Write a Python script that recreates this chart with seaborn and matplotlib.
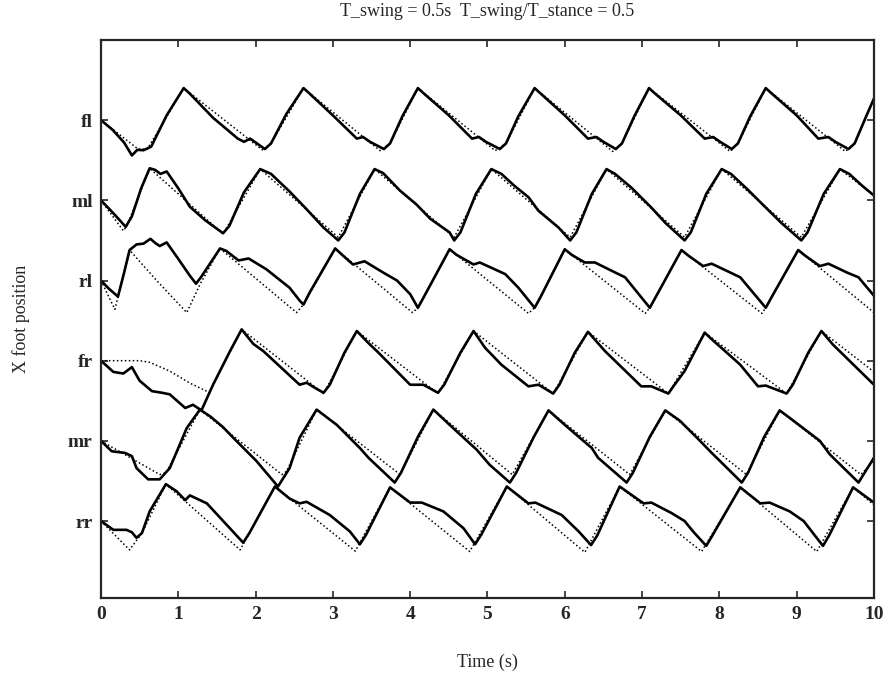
import numpy as np
import matplotlib
matplotlib.use("Agg")
import matplotlib.pyplot as plt
import seaborn as sns

sns.set_style("ticks")
plt.rcParams['font.family'] = ['Liberation Serif', 'DejaVu Serif']

# legs, top to bottom
legs = ['fl', 'ml', 'rl', 'fr', 'mr', 'rr']

# fl: measured (solid) and commanded (dotted) foot x position
fl_t = [0.00, 0.15, 0.30, 0.40, 0.47, 0.55, 0.65, 0.85, 1.07, 1.15, 1.45, 1.77, 1.85, 1.93, 2.12, 2.20, 2.40, 2.62, 2.70, 3.00,
        3.31, 3.39, 3.48, 3.66, 3.74, 3.90, 4.10, 4.18, 4.50, 4.80, 4.89, 4.98, 5.16, 5.24, 5.40, 5.61, 5.69, 6.00, 6.30, 6.41,
        6.50, 6.66, 6.74, 6.90, 7.09, 7.17, 7.50, 7.81, 7.92, 8.01, 8.16, 8.24, 8.40, 8.60, 8.68, 9.00, 9.28, 9.41, 9.50, 9.67,
        9.75, 9.90, 10.0]
fl_v = [0.00, -0.12, -0.28, -0.44, -0.37, -0.375, -0.33, 0.06, 0.40, 0.33, 0.03, -0.23, -0.27, -0.23, -0.36, -0.29, 0.08, 0.40, 0.33, 0.06,
        -0.23, -0.21, -0.27, -0.36, -0.29, 0.05, 0.40, 0.33, 0.06, -0.23, -0.21, -0.27, -0.36, -0.29, 0.05, 0.40, 0.33, 0.06, -0.23, -0.21,
        -0.27, -0.36, -0.29, 0.05, 0.40, 0.33, 0.06, -0.23, -0.21, -0.27, -0.36, -0.29, 0.05, 0.40, 0.33, 0.06, -0.23, -0.21, -0.27, -0.36,
        -0.29, 0.05, 0.27]
fl_ref_t = [0.00, 0.48, 0.60, 1.07, 2.10, 2.20, 2.62, 3.61, 3.74, 4.10, 5.10, 5.24, 5.61, 6.62, 6.74, 7.09, 8.14, 8.24, 8.60,
            9.63, 9.75, 10.0]
fl_ref_v = [0.00, -0.36, -0.36, 0.40, -0.38, -0.29, 0.40, -0.38, -0.29, 0.40, -0.38, -0.29, 0.40, -0.39, -0.29, 0.40, -0.39, -0.29, 0.40,
            -0.39, -0.29, 0.27]

# ml
ml_t = [0.00, 0.15, 0.32, 0.40, 0.52, 0.63, 0.70, 0.77, 0.85, 1.00, 1.15, 1.35, 1.58, 1.66, 1.85, 2.06, 2.20, 2.44, 2.64, 2.88,
        3.07, 3.15, 3.35, 3.54, 3.65, 3.87, 4.08, 4.26, 4.51, 4.57, 4.65, 4.85, 5.05, 5.18, 5.35, 5.53, 5.66, 5.92, 6.07, 6.15,
        6.35, 6.54, 6.65, 6.86, 7.12, 7.30, 7.55, 7.63, 7.83, 8.03, 8.15, 8.35, 8.60, 8.80, 9.06, 9.14, 9.35, 9.56, 9.68, 9.85,
        10.0]
ml_v = [0.00, -0.15, -0.33, -0.20, 0.15, 0.40, 0.38, 0.33, 0.36, 0.15, -0.08, -0.25, -0.41, -0.32, 0.10, 0.39, 0.33, 0.11, -0.09, -0.34,
        -0.50, -0.40, 0.08, 0.39, 0.34, 0.12, -0.05, -0.23, -0.40, -0.50, -0.40, 0.08, 0.39, 0.33, 0.18, 0.04, -0.13, -0.34, -0.50, -0.40,
        0.08, 0.39, 0.33, 0.16, -0.09, -0.28, -0.50, -0.40, 0.08, 0.39, 0.33, 0.15, -0.09, -0.28, -0.50, -0.40, 0.08, 0.39, 0.33, 0.18,
        0.06]
ml_ref_t = [0.00, 0.29, 0.34, 0.63, 1.58, 2.06, 3.07, 3.54, 4.57, 5.05, 6.07, 6.54, 7.55, 8.03, 9.06, 9.56, 10.0]
ml_ref_v = [0.00, -0.38, -0.31, 0.40, -0.42, 0.39, -0.46, 0.39, -0.46, 0.39, -0.46, 0.39, -0.46, 0.39, -0.46, 0.39, 0.06]

# rl
rl_t = [0.00, 0.10, 0.22, 0.30, 0.37, 0.46, 0.55, 0.64, 0.70, 0.76, 0.85, 1.00, 1.15, 1.23, 1.30, 1.54, 1.62, 1.78, 1.91, 2.14,
        2.44, 2.57, 2.62, 2.70, 3.03, 3.12, 3.26, 3.41, 3.65, 3.83, 4.00, 4.10, 4.18, 4.51, 4.60, 4.82, 4.90, 5.23, 5.40, 5.61,
        5.69, 6.00, 6.09, 6.26, 6.39, 6.61, 6.78, 7.10, 7.18, 7.51, 7.60, 7.79, 7.90, 8.14, 8.27, 8.60, 8.68, 9.02, 9.11, 9.30,
        9.41, 9.65, 9.80, 10.0]
rl_v = [0.00, -0.10, -0.20, 0.10, 0.38, 0.45, 0.46, 0.52, 0.47, 0.43, 0.475, 0.27, 0.06, -0.04, 0.05, 0.40, 0.37, 0.25, 0.275, 0.14,
        -0.09, -0.25, -0.30, -0.15, 0.40, 0.32, 0.20, 0.24, 0.10, 0.00, -0.17, -0.34, -0.20, 0.39, 0.32, 0.20, 0.225, 0.08, -0.09, -0.34,
        -0.20, 0.39, 0.32, 0.225, 0.225, 0.12, 0.04, -0.34, -0.20, 0.38, 0.31, 0.18, 0.21, 0.10, 0.04, -0.34, -0.20, 0.38, 0.31, 0.18,
        0.21, 0.10, 0.04, -0.19]
rl_ref_t = [0.00, 0.18, 0.30, 0.37, 0.72, 1.11, 1.28, 1.54, 2.53, 2.62, 3.03, 4.03, 4.10, 4.51, 5.53, 5.61, 6.00, 7.04, 7.10,
            7.51, 8.55, 8.60, 9.02, 10.0]
rl_ref_v = [0.00, -0.36, 0.10, 0.38, 0.00, -0.40, -0.05, 0.40, -0.40, -0.30, 0.40, -0.40, -0.34, 0.39, -0.41, -0.34, 0.39, -0.41, -0.34,
            0.38, -0.41, -0.34, 0.38, -0.40]

# fr
fr_t = [0.00, 0.16, 0.29, 0.40, 0.50, 0.66, 0.79, 0.89, 1.09, 1.19, 1.30, 1.45, 1.67, 1.82, 1.97, 2.10, 2.57, 2.66, 2.77, 2.88,
        2.96, 3.15, 3.31, 3.46, 3.59, 4.00, 4.17, 4.36, 4.44, 4.65, 4.82, 4.97, 5.18, 5.53, 5.66, 5.85, 5.93, 6.13, 6.30, 6.52,
        6.99, 7.12, 7.34, 7.42, 7.55, 7.81, 7.92, 8.05, 8.27, 8.50, 8.60, 8.87, 8.95, 9.15, 9.32, 9.47, 10.0]
fr_v = [0.00, -0.14, -0.16, -0.08, -0.25, -0.38, -0.40, -0.42, -0.59, -0.55, -0.62, -0.30, 0.12, 0.39, 0.21, 0.12, -0.30, -0.275, -0.34, -0.40,
        -0.30, 0.10, 0.37, 0.22, 0.10, -0.30, -0.30, -0.40, -0.30, 0.10, 0.37, 0.16, -0.05, -0.32, -0.30, -0.41, -0.30, 0.10, 0.36, 0.12,
        -0.32, -0.32, -0.41, -0.30, -0.13, 0.35, 0.25, 0.14, -0.05, -0.32, -0.31, -0.41, -0.30, 0.10, 0.37, 0.20, -0.30]
fr_ref_t = [0.00, 0.50, 0.63, 0.89, 1.15, 1.41, 1.45, 1.82, 2.88, 3.31, 4.36, 4.82, 5.85, 6.30, 7.34, 7.81, 8.87, 9.32, 10.0]
fr_ref_v = [0.00, 0.00, -0.02, -0.13, -0.28, -0.40, -0.30, 0.39, -0.41, 0.37, -0.41, 0.37, -0.41, 0.36, -0.41, 0.35, -0.41, 0.37, -0.14]

# mr
mr_t = [0.00, 0.14, 0.31, 0.40, 0.46, 0.61, 0.76, 0.89, 1.11, 1.28, 1.42, 1.58, 1.71, 2.01, 2.29, 2.44, 2.57, 2.79, 3.05, 3.35,
        3.46, 3.80, 3.88, 4.10, 4.30, 4.51, 4.86, 5.03, 5.29, 5.37, 5.60, 5.79, 6.00, 6.35, 6.43, 6.80, 6.88, 7.10, 7.30, 7.49,
        7.75, 7.88, 8.29, 8.37, 8.58, 8.78, 8.96, 9.30, 9.43, 9.80, 10.0]
mr_v = [0.00, -0.13, -0.15, -0.19, -0.34, -0.48, -0.48, -0.34, 0.16, 0.39, 0.30, 0.17, 0.04, -0.25, -0.57, -0.34, 0.04, 0.39, 0.20, -0.09,
        -0.21, -0.52, -0.40, 0.05, 0.39, 0.20, -0.11, -0.30, -0.52, -0.40, 0.05, 0.38, 0.20, -0.09, -0.21, -0.52, -0.40, 0.05, 0.38, 0.25,
        0.00, -0.13, -0.52, -0.40, 0.05, 0.38, 0.25, 0.00, -0.17, -0.52, -0.21]
mr_ref_t = [0.00, 0.76, 0.84, 1.28, 2.34, 2.40, 2.79, 3.87, 4.30, 5.32, 5.79, 6.84, 7.30, 8.35, 8.78, 9.83, 10.0]
mr_ref_v = [0.00, -0.42, -0.40, 0.39, -0.42, -0.38, 0.39, -0.42, 0.39, -0.42, 0.38, -0.42, 0.38, -0.42, 0.38, -0.42, -0.25]

# rr
rr_t = [0.00, 0.16, 0.33, 0.40, 0.46, 0.53, 0.63, 0.84, 0.98, 1.09, 1.15, 1.37, 1.84, 1.92, 2.25, 2.44, 2.57, 2.66, 2.96, 3.22,
        3.35, 3.43, 3.74, 4.00, 4.15, 4.43, 4.69, 4.84, 4.92, 5.25, 5.53, 5.62, 5.96, 6.18, 6.34, 6.42, 6.71, 7.02, 7.12, 7.38,
        7.55, 7.66, 7.83, 7.91, 8.27, 8.53, 8.65, 8.91, 9.09, 9.34, 9.42, 9.73, 10.0]
rr_v = [0.00, -0.11, -0.11, -0.14, -0.21, -0.15, 0.12, 0.46, 0.37, 0.26, 0.32, 0.22, -0.27, -0.15, 0.43, 0.28, 0.22, 0.24, 0.075, -0.13,
        -0.29, -0.17, 0.42, 0.23, 0.23, 0.12, -0.09, -0.29, -0.17, 0.43, 0.22, 0.23, 0.075, -0.13, -0.30, -0.18, 0.43, 0.22, 0.23, 0.10,
        0.00, -0.13, -0.31, -0.18, 0.42, 0.22, 0.23, 0.12, 0.00, -0.31, -0.18, 0.42, 0.23]
rr_ref_t = [0.00, 0.37, 0.53, 0.84, 1.80, 2.25, 3.29, 3.74, 4.77, 5.25, 6.26, 6.71, 7.77, 8.27, 9.26, 9.73, 10.0]
rr_ref_v = [0.00, -0.36, -0.15, 0.46, -0.36, 0.43, -0.375, 0.42, -0.38, 0.43, -0.39, 0.43, -0.38, 0.42, -0.38, 0.42, 0.20]

actual = [(fl_t, fl_v), (ml_t, ml_v), (rl_t, rl_v), (fr_t, fr_v), (mr_t, mr_v), (rr_t, rr_v)]
command = [(fl_ref_t, fl_ref_v), (ml_ref_t, ml_ref_v), (rl_ref_t, rl_ref_v),
           (fr_ref_t, fr_ref_v), (mr_ref_t, mr_ref_v), (rr_ref_t, rr_ref_v)]
baseline = [6, 5, 4, 3, 2, 1]

fig = plt.figure(figsize=(8.88, 6.78), dpi=100)
ax = fig.add_axes([0.1137, 0.118, 0.8705, 0.823])

for (t, v), (rt, rv), off in zip(actual, command, baseline):
    sns.lineplot(x=rt, y=np.array(rv) + off, ax=ax, color='black', lw=1.1,
                 linestyle=(0, (1, 1.6)), sort=False, estimator=None)
    sns.lineplot(x=t, y=np.array(v) + off, ax=ax, color='black', lw=1.9,
                 sort=False, estimator=None, solid_joinstyle='round', solid_capstyle='round')

ax.set_xlim(0, 10)
ax.set_ylim(0.04, 7.0)
ax.set_xticks(range(0, 11))
ax.set_xticklabels([str(i) for i in range(0, 11)], fontsize=14, fontweight='bold')
ax.set_yticks(baseline)
ax.set_yticklabels(legs, fontsize=14, fontweight='bold')
ax.tick_params(direction='in', top=True, right=True, length=5, width=1.2, pad=6)
for s in ax.spines.values():
    s.set_linewidth(1.6)

ax.set_title('T_swing = 0.5s  T_swing/T_stance = 0.5', fontsize=13, pad=17)
ax.set_xlabel('Time (s)', fontsize=13, labelpad=22)
ax.set_ylabel('X foot position', fontsize=13, labelpad=27)

fig.savefig('out.png', dpi=100)
